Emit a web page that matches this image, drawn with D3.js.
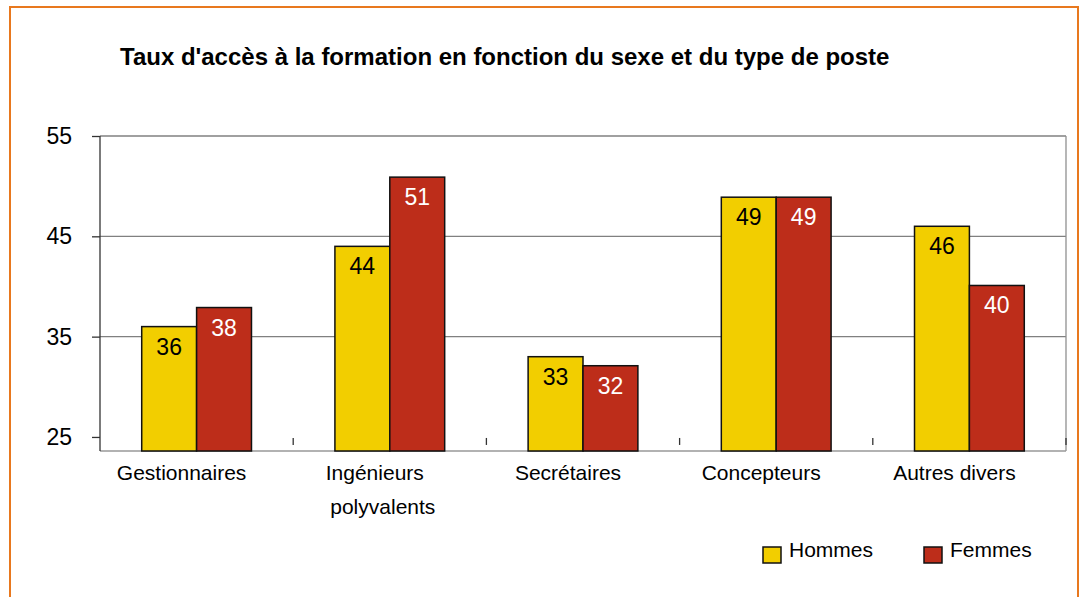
<!DOCTYPE html>
<html>
<head>
<meta charset="utf-8">
<script src="https://cdn.jsdelivr.net/npm/d3@7"></script>
<style>
  body { margin: 0; background: #fff; }
  svg text { font-family: "Liberation Sans", Arial, sans-serif; }
</style>
</head>
<body>
<div id="chart-container"></div>
<script>
const categories = [["Gestionnaires"], ["Ingénieurs", "polyvalents"], ["Secrétaires"], ["Concepteurs"], ["Autres divers"]];
const seriesNames = ["Hommes", "Femmes"];
const hommes = [36.0, 44.0, 33.0, 48.9, 46.0];
const femmes = [37.9, 50.9, 32.1, 48.9, 40.1];
const yTicks = [25, 35, 45, 55];
const colors = ["#f2ce00", "#bd2d1a"];
const labelColors = ["#000", "#fff"];

const W = 1079, H = 597;
const svg = d3.select("#chart-container").append("svg")
  .attr("width", W)
  .attr("height", H);

// orange frame
svg.append("rect")
  .attr("x", 10).attr("y", 7)
  .attr("width", 1068).attr("height", 620)
  .attr("fill", "none")
  .attr("stroke", "#e8781e")
  .attr("stroke-width", 2);

svg.append("text")
  .attr("x", 120).attr("y", 65)
  .attr("font-size", 24)
  .attr("font-weight", "bold")
  .text("Taux d'accès à la formation en fonction du sexe et du type de poste");

const plotLeft = 100, plotRight = 1066, plotTop = 136, plotBottom = 451;
const keys = categories.map(c => c.join(" "));
const x0 = d3.scaleBand().domain(keys).range([plotLeft, plotRight]).padding(0);
const x1 = d3.scaleBand().domain(seriesNames).range([0, x0.bandwidth()]).paddingInner(0).paddingOuter(0.76);
const y = d3.scaleLinear().domain([23.6, 55]).range([plotBottom, plotTop]);

// grid lines
svg.selectAll("line.grid")
  .data(yTicks.filter(t => t > 25))
  .enter().append("line")
  .attr("class", "grid")
  .attr("x1", plotLeft).attr("x2", plotRight)
  .attr("y1", d => y(d)).attr("y2", d => y(d))
  .attr("stroke", "#808080")
  .attr("stroke-width", 1.3);

// right frame + baseline
svg.append("line")
  .attr("x1", plotRight).attr("x2", plotRight).attr("y1", plotTop).attr("y2", plotBottom)
  .attr("stroke", "#909090").attr("stroke-width", 1.3);
svg.append("line")
  .attr("x1", plotLeft).attr("x2", plotRight).attr("y1", plotBottom).attr("y2", plotBottom)
  .attr("stroke", "#999").attr("stroke-width", 1.3);

// y axis
const yAxis = svg.append("g")
  .attr("transform", `translate(${plotLeft},0)`)
  .call(d3.axisLeft(y).tickValues(yTicks).tickSize(8).tickPadding(20));
yAxis.select(".domain").attr("stroke", "#333").attr("stroke-width", 1.3)
  .attr("d", `M0,${plotTop}V${plotBottom}`);
yAxis.selectAll(".tick line").attr("stroke", "#333").attr("stroke-width", 1.3);
yAxis.selectAll(".tick text")
  .attr("font-size", 23)
  .attr("fill", "#000")
  .style("font-family", "'Liberation Sans', Arial, sans-serif");

// category separator marks
svg.selectAll("line.sep")
  .data(keys)
  .enter().append("line")
  .attr("class", "sep")
  .attr("x1", d => x0(d) + x0.bandwidth())
  .attr("x2", d => x0(d) + x0.bandwidth())
  .attr("y1", y(25) + 1).attr("y2", y(25) + 8)
  .attr("stroke", "#333").attr("stroke-width", 1.3);

// bars
const data = keys.map((k, i) => ({ key: k, values: [hommes[i], femmes[i]] }));
const groups = svg.selectAll("g.cat")
  .data(data)
  .enter().append("g")
  .attr("class", "cat")
  .attr("transform", d => `translate(${x0(d.key)},0)`);

groups.selectAll("rect")
  .data(d => d.values.map((v, j) => ({ s: seriesNames[j], v: v, j: j })))
  .enter().append("rect")
  .attr("x", d => x1(d.s))
  .attr("y", d => y(d.v))
  .attr("width", x1.bandwidth())
  .attr("height", d => plotBottom - y(d.v))
  .attr("fill", d => colors[d.j])
  .attr("stroke", "#111")
  .attr("stroke-width", 1.5);

groups.selectAll("text.val")
  .data(d => d.values.map((v, j) => ({ s: seriesNames[j], v: v, j: j })))
  .enter().append("text")
  .attr("class", "val")
  .attr("x", d => x1(d.s) + x1.bandwidth() / 2)
  .attr("y", d => y(d.v) + 28)
  .attr("text-anchor", "middle")
  .attr("font-size", 23)
  .attr("fill", d => labelColors[d.j])
  .text(d => d3.format(".0f")(d.v));

// category labels
const catLabels = svg.selectAll("text.catlabel")
  .data(categories)
  .enter().append("text")
  .attr("class", "catlabel")
  .attr("text-anchor", "middle")
  .attr("font-size", 21);
catLabels.selectAll("tspan")
  .data((d, i) => d.map((line, j) => ({ line, j, key: keys[i] })))
  .enter().append("tspan")
  .attr("x", d => x0(d.key) + x0.bandwidth() / 2 - (d.j === 0 ? 15 : 7))
  .attr("y", d => 480 + d.j * 34)
  .text(d => d.line);

// legend
const legendX = [763, 924];
const legend = svg.selectAll("g.legend")
  .data(seriesNames)
  .enter().append("g")
  .attr("class", "legend")
  .attr("transform", (d, i) => `translate(${legendX[i]},547)`);
legend.append("rect")
  .attr("width", 18).attr("height", 16)
  .attr("fill", (d, i) => colors[i])
  .attr("stroke", "#111").attr("stroke-width", 1.5);
legend.append("text")
  .attr("x", 26).attr("y", 10)
  .attr("font-size", 21)
  .text(d => d);
</script>
</body>
</html>
